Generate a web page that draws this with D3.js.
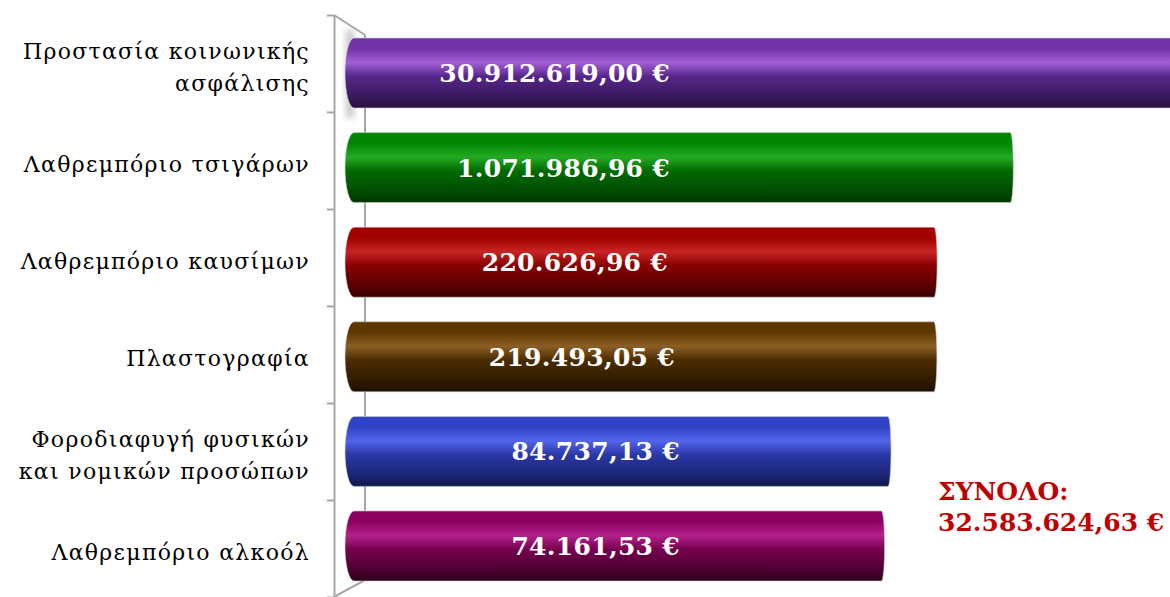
<!DOCTYPE html>
<html>
<head>
<meta charset="utf-8">
<script src="https://cdn.jsdelivr.net/npm/d3@7"></script>
<style>
  html, body { margin: 0; padding: 0; background: #fff; }
  svg { display: block; }
</style>
</head>
<body>
<svg id="chart" width="1170" height="597"></svg>
<script>
// ---- data ----
const categories = [
  ["Προστασία κοινωνικής", "ασφάλισης"],
  ["Λαθρεμπόριο τσιγάρων"],
  ["Λαθρεμπόριο καυσίμων"],
  ["Πλαστογραφία"],
  ["Φοροδιαφυγή φυσικών", "και νομικών προσώπων"],
  ["Λαθρεμπόριο αλκοόλ"]
];
const values = [30912619.00, 1071986.96, 220626.96, 219493.05, 84737.13, 74161.53];
const valueLabels = ["30.912.619,00 €", "1.071.986,96 €", "220.626,96 €", "219.493,05 €", "84.737,13 €", "74.161,53 €"];
const totalLabel = ["ΣΥΝΟΛΟ:", "32.583.624,63 €"];

// ---- styles ----
const palette = [
  {top: "#7233a6", hi: "#a35ed8", mid: "#55268a", bot: "#28103c"},
  {top: "#008600", hi: "#25aa25", mid: "#006a00", bot: "#003600"},
  {top: "#a00000", hi: "#c92424", mid: "#860000", bot: "#380000"},
  {top: "#5c3800", hi: "#8c5e24", mid: "#4a2c00", bot: "#1e0f00"},
  {top: "#3242c4", hi: "#5264ea", mid: "#2a38a6", bot: "#10184e"},
  {top: "#8c005e", hi: "#b2228c", mid: "#76004e", bot: "#2e001c"}
];
const labelEndX = [670, 670, 668, 675, 680, 680];

const svg = d3.select("#chart");
const ids = d3.range(categories.length);

// scales
const x = d3.scaleLog().domain([1, 1e8]).range([347, 347 + 8 * 111]);
const yBar = d3.scaleBand().domain(ids).range([25.7, 593.3]).paddingInner(0.26).paddingOuter(0.13);
const yAxis = d3.scaleBand().domain(ids).range([15, 597]).padding(0);
const tickScale = d3.scaleLinear().domain([0, categories.length]).range([15, 597]);

// defs / gradients
const defs = svg.append("defs");
palette.forEach((p, i) => {
  const g = defs.append("linearGradient").attr("id", "g" + i)
    .attr("x1", 0).attr("y1", 0).attr("x2", 0).attr("y2", 1);
  g.append("stop").attr("offset", "0%").attr("stop-color", p.top);
  g.append("stop").attr("offset", "15%").attr("stop-color", p.top);
  g.append("stop").attr("offset", "35%").attr("stop-color", p.hi);
  g.append("stop").attr("offset", "55%").attr("stop-color", p.mid);
  g.append("stop").attr("offset", "80%").attr("stop-color", d3.interpolateRgb(p.mid, p.bot)(0.5));
  g.append("stop").attr("offset", "100%").attr("stop-color", p.bot);
});
const blur = defs.append("filter").attr("id", "blur").attr("x", "-50%").attr("width", "200%");
blur.append("feGaussianBlur").attr("stdDeviation", 3);

// 3D wall / axis
const axisColor = "#a6a6a6";
const x0 = 334, xBack = 365;
svg.append("rect").attr("x", 346).attr("y", 30).attr("width", 8).attr("height", 88)
  .attr("fill", "#9a9a9a").attr("opacity", 0.55).attr("filter", "url(#blur)");

svg.append("line").attr("x1", xBack).attr("x2", xBack)
  .attr("y1", tickScale(0) + 20).attr("y2", tickScale(categories.length) - 17)
  .attr("stroke", axisColor).attr("stroke-width", 2);
svg.append("line").attr("x1", x0).attr("y1", tickScale(0)).attr("x2", xBack).attr("y2", tickScale(0) + 20)
  .attr("stroke", axisColor).attr("stroke-width", 2);
svg.append("line").attr("x1", x0).attr("y1", tickScale(categories.length)).attr("x2", xBack).attr("y2", tickScale(categories.length) - 17)
  .attr("stroke", axisColor).attr("stroke-width", 2);

const axisG = svg.append("g").attr("transform", `translate(${x0},0)`)
  .call(d3.axisLeft(tickScale).tickValues(d3.range(categories.length + 1)).tickSize(7).tickSizeOuter(0).tickFormat(""));
axisG.selectAll("path, line").attr("stroke", axisColor).attr("stroke-width", 2);

// bars (cylinders)
const rx = 9;
function cylPath(x1, x2, y, h) {
  const r = h / 2;
  return `M${x1 + rx},${y} L${x2 - 3},${y} A3,${r} 0 0 1 ${x2 - 3},${y + h} L${x1 + rx},${y + h} A${rx},${r} 0 0 1 ${x1 + rx},${y} Z`;
}
svg.append("g").selectAll("path").data(ids).join("path")
  .attr("d", i => cylPath(x(1) - 2, x(values[i]) - 3, yBar(i), yBar.bandwidth()))
  .attr("fill", i => `url(#g${i})`)
  .attr("stroke", "#d0d0d0").attr("stroke-width", 0.6);

// value labels
svg.append("g").selectAll("text").data(ids).join("text")
  .attr("x", i => labelEndX[i])
  .attr("y", i => yBar(i) + yBar.bandwidth() / 2 + 9)
  .attr("text-anchor", "end")
  .attr("font-family", "DejaVu Serif")
  .attr("font-weight", "bold")
  .attr("font-size", 25)
  .attr("letter-spacing", "0.3px")
  .attr("fill", "#ffffff")
  .text(i => valueLabels[i]);

// category labels
const catG = svg.append("g");
ids.forEach(i => {
  const lines = categories[i];
  const cy = yAxis(i) + yAxis.bandwidth() / 2 + 4;
  const lh = 32;
  const t = catG.append("text")
    .attr("text-anchor", "end")
    .attr("font-family", "DejaVu Serif")
    .attr("font-size", 22)
    .attr("letter-spacing", "1.3px")
    .attr("fill", "#000");
  lines.forEach((ln, k) => {
    t.append("tspan").attr("x", 310)
      .attr("y", cy + (k - (lines.length - 1) / 2) * lh)
      .attr("dy", "0.35em")
      .text(ln);
  });
});

// total
const tot = svg.append("text")
  .attr("font-family", "DejaVu Serif").attr("font-weight", "bold")
  .attr("font-size", 25).attr("fill", "#c00000");
totalLabel.forEach((ln, k) => {
  tot.append("tspan").attr("x", 938).attr("y", 500 + k * 31).text(ln);
});
</script>
</body>
</html>
